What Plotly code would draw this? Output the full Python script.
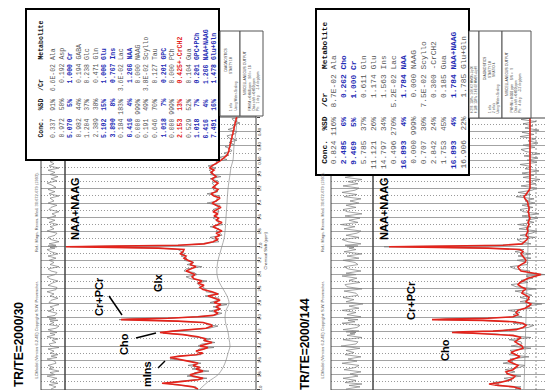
import plotly.graph_objects as go

# ---------------- DATA ----------------
# Panel A : TR/TE = 2000/30   (ppm, fitted spectrum, residual, baseline)
PPM_A = [4.00, 3.97, 3.94, 3.92, 3.90, 3.87, 3.85, 3.82, 3.80, 3.77,
         3.75, 3.72, 3.70, 3.67, 3.64, 3.61, 3.58, 3.56, 3.54, 3.52,
         3.50, 3.47, 3.44, 3.42, 3.40, 3.37, 3.35, 3.32, 3.30, 3.27,
         3.24, 3.22, 3.21, 3.19, 3.17, 3.15, 3.12, 3.10, 3.07, 3.05,
         3.04, 3.03, 3.02, 3.01, 2.99, 2.97, 2.94, 2.91, 2.88, 2.85,
         2.82, 2.79, 2.76, 2.73, 2.70, 2.67, 2.64, 2.61, 2.58, 2.55,
         2.52, 2.49, 2.46, 2.43, 2.40, 2.37, 2.35, 2.32, 2.29, 2.26,
         2.23, 2.20, 2.17, 2.14, 2.11, 2.08, 2.05, 2.03, 2.02, 2.01,
         2.00, 1.99, 1.97, 1.94, 1.91, 1.88, 1.85, 1.82, 1.79, 1.76,
         1.73, 1.70, 1.67, 1.64, 1.61, 1.58, 1.55, 1.52, 1.49, 1.46,
         1.43, 1.40, 1.37, 1.33, 1.30, 1.27, 1.24, 1.21, 1.18, 1.15,
         1.12, 1.09, 1.06, 1.03, 1.00, 0.97, 0.94, 0.91, 0.88, 0.85,
         0.82, 0.79, 0.76, 0.73, 0.70, 0.67, 0.64, 0.61, 0.58, 0.55,
         0.52, 0.49, 0.46, 0.43, 0.40, 0.37, 0.34, 0.31, 0.28, 0.25,
         0.22, 0.20]
FIT_A = [58, 63, 78, 94, 78, 58, 53, 63, 66, 58,
         53, 60, 56, 63, 58, 68, 80, 86, 76, 60,
         53, 60, 52, 48, 56, 50, 44, 52, 50, 58,
         73, 90, 96, 83, 63, 50, 44, 45, 53, 78,
         108, 135, 123, 88, 58, 43, 38, 42, 36, 40,
         35, 42, 36, 42, 48, 38, 44, 53, 56, 52,
         58, 54, 62, 64, 61, 66, 70, 65, 60, 66,
         63, 68, 72, 70, 76, 73, 72, 98, 148, 190,
         138, 78, 52, 43, 38, 41, 36, 40, 34, 38,
         43, 38, 34, 40, 37, 42, 38, 43, 39, 35,
         40, 44, 40, 36, 42, 45, 40, 38, 43, 41,
         38, 42, 44, 40, 43, 45, 42, 46, 44, 40,
         37, 34, 31, 29, 28, 27, 27, 26, 26, 25,
         25, 24, 24, 23, 23, 22, 22, 21, 21, 20,
         20, 19]
RES_A = [2, -3, 4, -5, 3, 1, -4, 6, -2, 3,
         -6, 4, -1, 5, -3, -2, 6, -4, 2, -5,
         3, -1, 5, -6, 2, 4, -3, 1, -5, 6,
         -2, 3, -4, 2, 5, -3, -6, 4, -1, 3,
         -5, 2, 4, -3, 6, -2, -4, 5, -1, 3,
         -6, 4, 2, -5, 3, -1, 6, -3, -4, 5,
         1, -5, 3, 6, -2, -4, 2, 5, -6, 3,
         -1, 4, -3, 5, -5, 2, 6, -2, 3, -4,
         5, -3, 4, -6, 2, 5, -2, -4, 6, -1,
         3, -5, 4, -2, 6, -3, 1, -6, 4, 2,
         -4, 5, -1, 3, -6, 4, -2, 5, -3, 1,
         6, -4, 2, -5, 3, -2, 5, -6, 4, -1,
         3, -5, 6, -2, 4, -3, -1, 5, -4, 2,
         -6, 3, 5, -2, -4, 6, -1, 3, -5, 2,
         4, -3]
BASE_PPM_A = [4.0, 3.9, 3.8, 3.7, 3.6, 3.5, 3.4, 3.3, 3.2, 3.1, 3.0, 2.9, 2.8, 2.7,
              2.6, 2.5, 2.4, 2.3, 2.2, 2.1, 2.0, 1.9, 1.8, 1.6, 1.4, 1.2, 1.0, 0.9,
              0.8, 0.6, 0.4, 0.2]
BASE_A = [56, 48, 38, 33, 30, 28, 26, 27, 28, 30, 31, 30, 27, 29,
          33, 37, 39, 39, 38, 36, 34, 32, 31, 30, 29, 28, 26, 25,
          23, 22, 20, 19]

# Panel B : TR/TE = 2000/144
PPM_B = [4.00, 3.97, 3.95, 3.93, 3.91, 3.88, 3.85, 3.82, 3.79, 3.76,
         3.73, 3.70, 3.67, 3.64, 3.61, 3.58, 3.55, 3.52, 3.49, 3.46,
         3.43, 3.40, 3.37, 3.34, 3.31, 3.28, 3.25, 3.23, 3.22, 3.21,
         3.20, 3.19, 3.17, 3.14, 3.11, 3.08, 3.06, 3.04, 3.03, 3.02,
         3.01, 2.99, 2.96, 2.93, 2.90, 2.87, 2.84, 2.81, 2.78, 2.75,
         2.72, 2.69, 2.66, 2.63, 2.60, 2.57, 2.54, 2.51, 2.48, 2.45,
         2.42, 2.40, 2.38, 2.35, 2.32, 2.29, 2.26, 2.23, 2.20, 2.17,
         2.14, 2.11, 2.08, 2.05, 2.03, 2.02, 2.01, 2.00, 1.99, 1.97,
         1.94, 1.91, 1.88, 1.85, 1.82, 1.79, 1.76, 1.73, 1.70, 1.67,
         1.64, 1.61, 1.58, 1.55, 1.52, 1.49, 1.46, 1.43, 1.40, 1.37,
         1.34, 1.31, 1.28, 1.25, 1.22, 1.19, 1.16, 1.13, 1.10, 1.07,
         1.04, 1.01, 0.98, 0.95, 0.92, 0.89, 0.86, 0.83, 0.80, 0.77,
         0.74, 0.71, 0.68, 0.65, 0.62, 0.59, 0.56, 0.53, 0.50, 0.47,
         0.44, 0.41, 0.38, 0.35, 0.32, 0.29, 0.26, 0.23, 0.20]
FIT_B = [15, 23, 38, 47, 36, 28, 23, 21, 28, 30,
         23, 20, 18, 23, 28, 22, 16, 20, 25, 20,
         13, 14, 18, 21, 18, 15, 23, 43, 63, 84,
         73, 43, 20, 13, 10, 13, 23, 53, 104, 88,
         48, 23, 18, 20, 18, 11, 7, 5, 10, 8,
         7, 10, 14, 13, 10, 15, 18, 16, 12, 8,
         0, -5, 2, 15, 17, 18, 15, 11, 10, 12,
         13, 15, 13, 16, 48, 98, 147, 88, 33, 14,
         11, 9, 8, 10, 9, 8, 9, 8, 7, 8,
         7, 6, 7, 7, 8, 7, 7, 8, 8, 9,
         11, 12, 10, 8, 7, 6, 6, 6, 6, 6,
         6, 6, 6, 6, 6, 6, 6, 6, 6, 6,
         6, 6, 6, 6, 6, 6, 6, 6, 6, 6,
         6, 6, 6, 6, 6, 6, 6, 6, 6]
RES_B = [6, -8, 3, -10, 7, -4, 9, -6, 2, -9,
         8, -3, -7, 10, -5, 4, -9, 7, -2, 6,
         -8, 11, -4, -6, 9, -10, 5, -3, 2, -4,
         6, -7, 9, -5, -8, 10, -3, 4, -6, 3,
         8, -9, 5, -4, 10, -7, 3, -11, 6, -2,
         9, -6, -4, 8, -10, 5, 7, -8, 3, -5,
         10, -4, 6, -9, 4, 8, -6, -3, 9, -7,
         5, -10, 8, -4, 3, -2, 5, -6, 7, -9,
         4, 10, -7, 6, -5, -9, 8, -3, 11, -6,
         3, -8, 7, -10, 5, 9, -4, 6, -7, 2,
         -9, 8, -5, 10, -3, -7, 9, -6, 4, -10,
         7, -4, 8, -9, 5, -2, 10, -7, 3, -8,
         6, -10, 4, 9, -5, 7, -8, 2, -6, 10,
         -4, 8, -9, 5, -3, 7, -6, 9, -5]
BASE_PPM_B = [4.0, 3.5, 3.0, 2.5, 2.0, 1.5, 1.0, 0.5, 0.2]
BASE_B = [12, 11, 10, 9, 8, 7, 6, 6, 6]

# Concentration tables
TAB_A_NAME = ["Ala", "Asp", "Cr", "GABA", "Glc", "Gln", "Glu", "Ins", "Lac", "NAA",
              "NAAG", "Scyllo", "Tau", "GPC", "PCh", "-CrCH2", "Gua", "GPC+PCh",
              "NAA+NAAG", "Glu+Gln"]
TAB_A_CONC = [0.337, 0.972, 5.070, 0.982, 1.204, 2.389, 5.102, 3.890, 0.184, 6.416,
              0.000, 0.191, 0.646, 1.018, 0.000, 2.153, 0.529, 1.018, 6.416, 7.491]
TAB_A_SD = [91, 50, 5, 44, 37, 38, 15, 8, 183, 4, 999, 49, 70, 7, 999, 13, 52, 7, 4, 16]
TAB_A_RATIO = ["6.6E-02", "0.192", "1.000", "0.194", "0.238", "0.471", "1.006", "0.767",
               "3.6E-02", "1.266", "0.000", "3.8E-02", "0.127", "0.201", "0.000",
               "0.425", "0.104", "0.201", "1.266", "1.478"]
TAB_A_KIND = ["n", "n", "b", "n", "n", "n", "b", "b", "n", "b",
              "n", "n", "n", "b", "n", "r", "n", "b", "b", "b"]

TAB_B_NAME = ["Ala", "Cho", "Cr", "Gln", "Glu", "Ins", "Lac", "NAA", "NAAG", "Scyllo",
              "-CrCH2", "Gua", "NAA+NAAG", "Glu+Gln"]
TAB_B_CONC = [0.824, 2.485, 9.469, 5.785, 11.121, 14.797, 0.496, 16.893, 0.000, 0.707,
              2.842, 1.753, 16.893, 16.906]
TAB_B_SD = [116, 6, 5, 37, 26, 34, 270, 4, 999, 30, 24, 45, 4, 22]
TAB_B_RATIO = ["8.7E-02", "0.262", "1.000", "0.611", "1.174", "1.563", "5.2E-02",
               "1.784", "0.000", "7.5E-02", "0.300", "0.185", "1.784", "1.785"]
TAB_B_KIND = ["n", "b", "b", "n", "n", "n", "n", "b", "n", "n", "n", "n", "b", "n"]

PPM_TICKS = [4.0, 3.8, 3.6, 3.4, 3.2, 3.0, 2.8, 2.6, 2.4, 2.2, 2.0, 1.8, 1.6, 1.4,
             1.2, 1.0, 0.8, 0.6, 0.4]
PPM_TICK_TEXT = ["4.0", "3.8", "3.6", "3.4", "3.2", "3.0", "2.8", "2.6", "2.4", "2.2",
                 "2.0", "1.8", "1.6", "1.4", "1.2", "1.0", "0.80", "0.60", "0.40"]

# ---------------- LAYOUT HELPERS ----------------
W, H = 553, 390
def fx(px):
    return px / W
def fy(py):
    return 1 - py / H
PPM_BOTTOM_PX, PX_PER_PPM = 381.0, 71.5
def ppm_at(py):
    return 4.0 - (PPM_BOTTOM_PX - py) / PX_PER_PPM

RED = "#e3231b"
DATA_C = "#7d7d7d"
GRID_C = "#a3a3a3"

fig = go.Figure()

def add_panel(ppm, fit, res, bppm, base, xm, xr, ya):
    data = [f + r for f, r in zip(fit, res)]
    fig.add_trace(go.Scatter(x=data, y=ppm, xaxis=xm, yaxis=ya, mode="lines",
                             line=dict(color=DATA_C, width=0.8), hoverinfo="skip"))
    fig.add_trace(go.Scatter(x=base, y=bppm, xaxis=xm, yaxis=ya, mode="lines",
                             line=dict(color="#8c8c8c", width=0.7, shape="spline"),
                             hoverinfo="skip"))
    fig.add_trace(go.Scatter(x=fit, y=ppm, xaxis=xm, yaxis=ya, mode="lines",
                             line=dict(color=RED, width=1.6), hoverinfo="skip"))
    fig.add_trace(go.Scatter(x=res, y=ppm, xaxis=xr, yaxis=ya, mode="lines",
                             line=dict(color=DATA_C, width=0.7), hoverinfo="skip"))

add_panel(PPM_A, FIT_A, RES_A, BASE_PPM_A, BASE_A, "x", "x2", "y")
add_panel(PPM_B, FIT_B, RES_B, BASE_PPM_B, BASE_B, "x3", "x4", "y2")

hidden_x = dict(visible=False, showgrid=False, zeroline=False, fixedrange=True)

def yax(anchor, top_px):
    return dict(domain=[fy(382), fy(top_px)], range=[ppm_at(382), ppm_at(top_px)],
                anchor=anchor, side="right", showticklabels=False, zeroline=False,
                showline=False, tick0=0, dtick=0.2, ticks="outside", ticklen=3,
                tickcolor="#444", showgrid=True, gridcolor=GRID_C, gridwidth=1,
                minor=dict(dtick=0.1, showgrid=True, griddash="1px,2px",
                           gridcolor="#9a9a9a", gridwidth=1,
                           ticks="outside", ticklen=2, tickcolor="#444"))

fig.update_layout(
    width=W, height=H, margin=dict(l=0, r=0, t=0, b=0),
    paper_bgcolor="white", plot_bgcolor="white", showlegend=False,
    xaxis=dict(domain=[fx(57), fx(248)], range=[191, 0], anchor="y", **hidden_x),
    xaxis2=dict(domain=[fx(33), fx(57)], range=[12, -12], anchor="y", **hidden_x),
    xaxis3=dict(domain=[fx(365), fx(540)], range=[163, -12], anchor="y2", **hidden_x),
    xaxis4=dict(domain=[fx(323), fx(365)], range=[21, -21], anchor="y2", **hidden_x),
    yaxis=yax("x", 108),
    yaxis2=yax("x3", 110),
)

shapes = []
annots = []

def rect(x0, y0, x1, y1, lw=1, lc="#444", fill=None):
    shapes.append(dict(type="rect", xref="paper", yref="paper",
                       x0=fx(x0), x1=fx(x1), y0=fy(y1), y1=fy(y0),
                       line=dict(color=lc, width=lw),
                       fillcolor=fill if fill else "rgba(0,0,0,0)", layer="above"))

def seg(x0, y0, x1, y1, lw=1.5, lc="black", dash="solid"):
    shapes.append(dict(type="line", xref="paper", yref="paper",
                       x0=fx(x0), x1=fx(x1), y0=fy(y0), y1=fy(y1),
                       line=dict(color=lc, width=lw, dash=dash), layer="above"))

def text(x, y, s, size, color="#222", angle=-90, xa="center", ya="middle",
         family="Liberation Sans", bold=False):
    annots.append(dict(x=fx(x), y=fy(y), xref="paper", yref="paper",
                       text=("<b>%s</b>" % s) if bold else s, showarrow=False,
                       textangle=angle, xanchor=xa, yanchor=ya, borderpad=0,
                       font=dict(size=size, color=color, family=family)))

# frames
rect(33, 108, 57, 382)
rect(57, 108, 248, 382)
rect(323, 110, 365, 382)
rect(365, 110, 540, 382)
# zero line of panel B
shapes.append(dict(type="line", xref="x3", yref="paper", x0=0, x1=0,
                   y0=fy(382), y1=fy(110), line=dict(color="#777", width=0.8, dash="2px,2px"),
                   layer="below"))

# ppm tick labels
for p, t in zip(PPM_TICKS, PPM_TICK_TEXT):
    annots.append(dict(x=fx(251.5), y=p, xref="paper", yref="y", text=t, showarrow=False,
                       textangle=-90, xanchor="center", yanchor="middle",
                       font=dict(size=4.2, color="#333", family="Liberation Sans")))
    annots.append(dict(x=fx(543.5), y=p, xref="paper", yref="y2", text=t, showarrow=False,
                       textangle=-90, xanchor="center", yanchor="middle",
                       font=dict(size=4.2, color="#333", family="Liberation Sans")))
text(256.5, 243, "Chemical Shift (ppm)", 4.0, "#333")
text(548, 243, "Chemical Shift (ppm)", 4.0, "#333")
text(248, 385, "0", 4.5, "#333", angle=0)
text(528, 385, "0", 4.5, "#333", angle=0)
text(32, 385, "-9.1E05", 3.6, "#333", angle=0)
text(55, 385, "1.1E06", 3.6, "#333", angle=0)
text(320, 385, "-2.0E06", 3.6, "#333", angle=0)
text(343, 385, "0", 3.6, "#333", angle=0)
text(364, 385, "2.0E06", 3.6, "#333", angle=0)

# copyright lines
for cx in (28, 314):
    text(cx, 372, "LCModel (Version 6.2-4E) Copyright: S.W. Provencher.", 4.0, "#555",
         ya="bottom")
    text(cx, 163, "Ref.: Magn. Reson. Med. 30:672-679 (1993).", 4.0, "#555", ya="top")

# tables
def table(names, conc, sd, ratio, kind, x0, x1, ybot, header_x, row_x0, row_dx, ystart, fsize):
    rect(x0, 1, x1, ybot, lw=2, lc="black", fill="white")
    hdr = "%6s%5s%-9s %s" % ("Conc.", "%SD", "  /Cr", "Metabolite")
    text(header_x, ystart, hdr.replace(" ", "&nbsp;"), fsize, "#111", ya="bottom",
         family="Liberation Mono", bold=True)
    colors = {"n": "#555555", "b": "#1f2db5", "r": "#e3231b"}
    for i, (nm, c, s, r, k) in enumerate(zip(names, conc, sd, ratio, kind)):
        sep = "+" if k == "r" else " "
        row = "%6s%5s%9s%s%s" % ("%.3f" % c, "%d%%" % s, r, sep, nm)
        text(row_x0 + row_dx * i, ystart, row.replace(" ", "&nbsp;"), fsize, colors[k],
             ya="bottom", family="Liberation Mono", bold=(k != "n"))

table(TAB_A_NAME, TAB_A_CONC, TAB_A_SD, TAB_A_RATIO, TAB_A_KIND,
      18, 211, 152, 33, 45, 8.5, 135, 6.5)
table(TAB_B_NAME, TAB_B_CONC, TAB_B_SD, TAB_B_RATIO, TAB_B_KIND,
      308, 461, 167, 316, 325, 10, 162, 7.9)

# info boxes
rect(212, 23, 232, 108, lw=1, lc="#555", fill="white")
rect(232, 23, 255, 108, lw=1, lc="#555", fill="white")
text(217.5, 52, "DIAGNOSTICS", 3.4, "#333")
text(223, 58, "STARTY 10", 3.2, "#444")
text(223, 104, "1 info", 3.2, "#444", ya="bottom")
text(228, 104, "Using Water-Scaling", 3.2, "#444", ya="bottom")
text(237, 65, "MISCELLANEOUS OUTPUT", 3.4, "#333")
text(242, 104, "FWHM = 0.048 ppm    S/N =  18", 3.2, "#444", ya="bottom")
text(246, 104, "Data shift = 0.010 ppm", 3.2, "#444", ya="bottom")
text(250, 104, "Ph:   1 deg      -1.4 deg/ppm", 3.2, "#444", ya="bottom")

rect(461, 23, 471, 110, lw=1, lc="#555", fill="white")
rect(471, 23, 494, 110, lw=1, lc="#555", fill="white")
rect(494, 23, 523, 110, lw=1, lc="#555", fill="white")
text(464.5, 106, "0.296  118%  1.0E-02 MM20+Lip20", 3.0, "#444", ya="bottom")
text(468, 106, "0.188  128%  2.0E-02 MM09+Lip09", 3.0, "#444", ya="bottom")
text(477, 60, "DIAGNOSTICS", 3.4, "#333")
text(482, 62, "STARTY 10", 3.2, "#444")
text(482, 106, "1 info", 3.2, "#444", ya="bottom")
text(486, 62, "NRATIO 4", 3.2, "#444")
text(486, 106, "2 info's", 3.2, "#444", ya="bottom")
text(490, 106, "Using Water-Scaling", 3.2, "#444", ya="bottom")
text(499, 66, "MISCELLANEOUS OUTPUT", 3.4, "#333")
text(504, 106, "FWHM = 0.038 ppm    S/N =   9", 3.2, "#444", ya="bottom")
text(508, 106, "Data shift = 0.010 ppm", 3.2, "#444", ya="bottom")
text(512, 106, "Ph:   4 deg      -3.2 deg/ppm", 3.2, "#444", ya="bottom")

# panel titles and peak labels
text(11, 337, "TR/TE=2000/30", 12, "black", bold=True)
text(297, 336, "TR/TE=2000/144", 12, "black", bold=True)
text(67, 201, "NAA+NAAG", 11, "black", bold=True)
text(91, 289, "Cr+PCr", 11, "black", bold=True)
text(150, 275, "Glx", 11, "black", bold=True)
text(116, 336, "Cho", 11, "black", bold=True)
text(139, 366, "mIns", 11, "black", bold=True)
text(376, 201, "NAA+NAAG", 11, "black", bold=True)
text(403, 293, "Cr+PCr", 11, "black", bold=True)
text(437, 342, "Cho", 11, "black", bold=True)
seg(101, 288, 114, 307)
seg(128, 330, 148, 325)
seg(150, 360, 157, 353)

fig.update_layout(shapes=shapes, annotations=annots)
fig.write_html("out.html")
